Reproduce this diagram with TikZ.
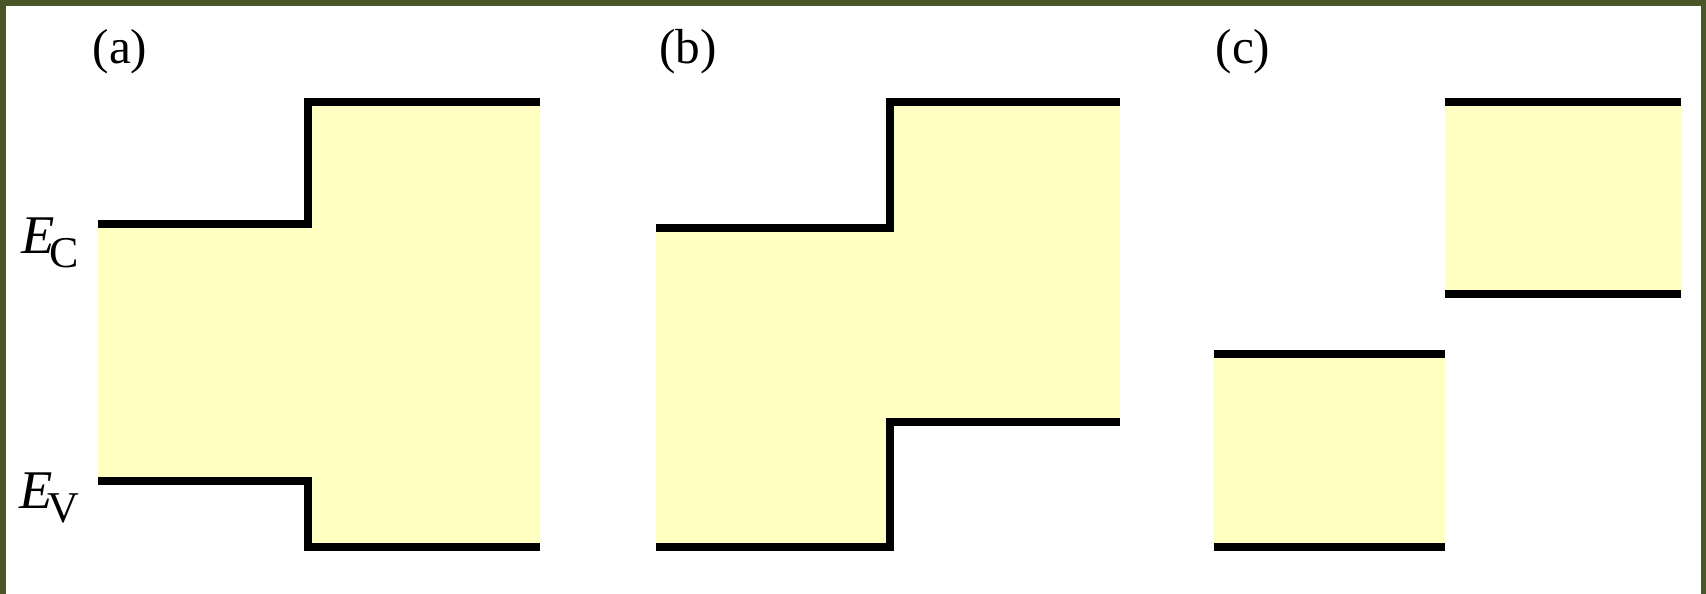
\documentclass[tikz,border=0pt]{standalone}
\usepackage{fontspec}
\setmainfont{Liberation Serif}
\usepackage{tikz}
\usetikzlibrary{positioning}
\definecolor{frame}{HTML}{4A5628}
\definecolor{band}{HTML}{FFFFC2}
\newcommand{\lvl}[1]{\textit{E}\kern-1.5pt\raisebox{-0.55ex}{\fontsize{12.5}{14}\selectfont #1}}

\begin{document}
\begin{tikzpicture}[x=0.01cm, y=-0.01cm,
    edge/.style={line width=2pt, black},
    gap/.style={fill=band, draw=none},
    lbl/.style={font=\fontsize{14}{16}\selectfont, inner sep=0pt},
    side/.style={font=\fontsize{15.5}{18}\selectfont, inner sep=0pt, anchor=east}
]
    % 边框与背景
    \fill[frame] (0,0) rectangle (1706,594);
    \fill[white] (6,6) rectangle (1701,594);
    \useasboundingbox (0,0) rectangle (1706,594);

    % (a) 跨越型
    \fill[gap] (98,224) -- (308,224) -- (308,102) -- (540,102) -- (540,547)
        -- (308,547) -- (308,481) -- (98,481) -- cycle;
    \draw[edge] (98,224) -- (308,224) -- (308,102) -- (540,102);
    \draw[edge] (98,481) -- (308,481) -- (308,547) -- (540,547);

    % (b) 交错型
    \fill[gap] (656,228) -- (890,228) -- (890,102) -- (1120,102) -- (1120,422)
        -- (890,422) -- (890,547) -- (656,547) -- cycle;
    \draw[edge] (656,228) -- (890,228) -- (890,102) -- (1120,102);
    \draw[edge] (656,547) -- (890,547) -- (890,422) -- (1120,422);

    % (c) 错开型
    \fill[gap] (1214,354) rectangle (1445,547);
    \draw[edge] (1214,354) -- (1445,354);
    \draw[edge] (1214,547) -- (1445,547);
    \fill[gap] (1445,102) rectangle (1681,294);
    \draw[edge] (1445,102) -- (1681,102);
    \draw[edge] (1445,294) -- (1681,294);

    % 标注
    \node[lbl] (la) at (120,52) {(a)};
    \node[lbl] (lb) at (688,52) {(b)};
    \node[lbl] (lc) at (1243,52) {(c)};
    \node[side] (ec) at (80,243) {\lvl{C}};
    \node[side] (ev) at (80,498) {\lvl{V}};
\end{tikzpicture}
\end{document}
